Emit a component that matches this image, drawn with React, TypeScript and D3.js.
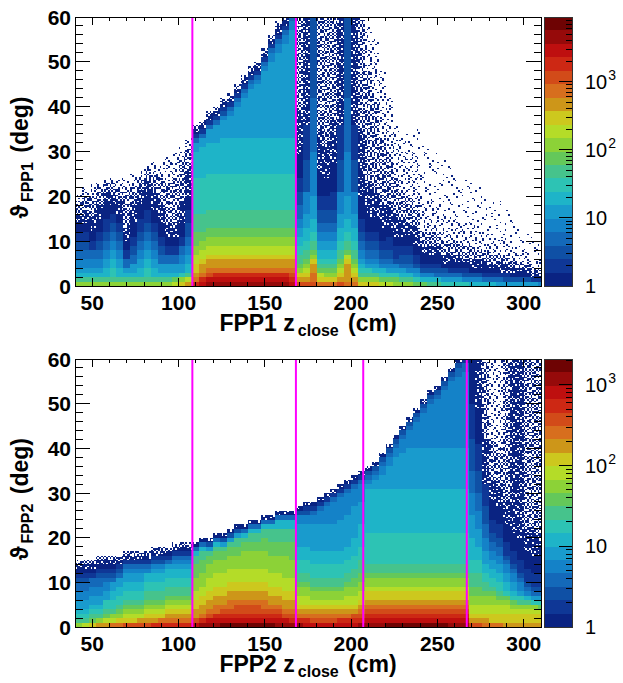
import React, { useEffect, useMemo } from 'react';
import * as d3 from 'd3';

// ---------- data ----------
// z bins: 4 cm wide from 40 cm; theta bins: 1 deg from 0 to 60 deg.
// Each column string is run-length coded from theta = 0 upward: symbol + count.
// Symbols: '0'..'9','A'..'J' = colour band 0..19 of the palette;
// 'c','b','a','e' = sparse single-count bins (occupancy about 80%, 50%, 20%, 8%).
const zRange = [40, 310];
const thetaRange = [0, 60];
const zBinWidth = 4;
const xTicks = [50, 100, 150, 200, 250, 300];
const yTicks = [0, 10, 20, 30, 40, 50, 60];
const colorTicks = [1, 10, 100, 1000];
const topCutLines = [108, 168];
const bottomCutLines = [108, 168, 207, 267];
const topMaxCount = 8900;
const bottomMaxCount = 2090;

const topColumns = [
  'A1 81 61 51 42 32 22 12 02 c2 b3 a2',
  'A1 81 61 51 42 32 22 12 02 c3 b3 a2',
  'A1 81 61 51 42 32 12 02 c4 b4 a3',
  'A1 81 61 51 42 32 22 12 03 c4 b3 a1',
  'A1 81 62 52 42 32 22 13 03 c3 b2 a1',
  'A1 81 72 62 52 42 32 22 12 02 c3 b2 a1',
  'A1 81 62 52 42 32 22 12 02 c3 b3 a2',
  'A1 81 61 51 32 12 02 c3 b8 a3',
  'A1 81 61 52 32 22 12 03 c4 b4 a3',
  'A1 81 62 52 42 32 22 13 03 c4 b2 a2',
  'A1 81 72 62 52 42 32 22 13 03 c4 b2 a1',
  'A1 81 62 52 42 32 22 12 03 c4 b4 a3',
  'A1 81 61 52 32 22 12 03 c4 b6 a4',
  'A1 81 61 52 32 12 02 c3 b9 a6',
  'B1 91 61 52 32 12 02 c3 b10 a6',
  'C1 A1 71 52 42 32 12 03 c5 b9 a3',
  'D1 B1 81 62 52 42 32 23 13 03 c6 b5 a2',
  'G1 E1 D1 C2 B2 A2 93 84 78 66 52 31 11 c1 b1',
  'H1 G1 E1 D2 C1 B2 A2 92 84 78 67 52 31 11 c1 b1',
  'I1 H1 F1 E1 D2 C1 B2 A2 92 84 78 67 53 31 11 c1 b1',
  'I1 H1 G1 E1 D2 C1 B2 A2 92 84 78 67 54 31 11 c1 b1',
  'I1 H1 G1 E1 D2 C1 B2 A2 92 84 78 68 54 41 21 11 c1 b1',
  'I1 H1 G1 E1 D2 C1 B2 A2 92 84 78 68 55 41 31 11 c1 b1',
  'I1 H1 G1 E1 D2 C1 B2 A2 92 84 78 68 57 41 31 11 c1 b1',
  'I1 H1 G1 E1 D2 C1 B2 A2 92 84 78 68 59 41 31 11 c1 b1',
  'I1 H1 G1 E1 D2 C1 B2 A2 92 84 78 68 511 41 31 11 c1 b1',
  'I1 H1 G1 E1 D2 C1 B2 A2 92 84 78 68 512 41 31 11 c1 b1',
  'I1 H1 G1 E1 D2 C1 B2 A2 92 84 78 68 515 41 31 11 c1 b1',
  'I1 H1 G1 E1 D2 C1 B2 A2 92 84 78 68 517 42 31 11 c1 b1',
  'I1 H1 G1 E1 D2 C1 B2 A2 92 84 78 68 519 42 31 11 c2 b1',
  'I1 H1 G1 E1 D2 C1 B2 A2 92 84 78 68 521 42 31 11 c2',
  'H1 G1 F1 E1 D2 C1 B2 A2 92 84 78 68 524 42 31',
  'F1 D1 C1 A1 91 82 72 62 52 42 33 23 13 05 c10 b21',
  'F1 D1 C1 B1 A1 91 82 72 63 53 45 27 18 c24',
  'F1 E2 D2 C1 A1 91 82 72 63 55 410 312 218',
  'E1 C1 B1 91 81 71 62 52 42 32 23 13 05 c10 b25',
  'E1 C1 A1 91 81 71 62 52 42 32 23 13 04 c8 b28',
  'E1 C1 A1 91 81 71 62 52 42 32 23 14 06 c10 b23',
  'F1 D1 C1 B1 A1 91 82 72 63 53 45 27 18 c24',
  'E1 D4 C1 B1 91 82 72 63 55 410 312 218',
  'E1 D1 C1 B1 A1 91 82 72 63 53 45 27 18 c24',
  'C1 A1 81 71 61 51 42 32 22 13 05 c15 b25',
  'C1 A1 81 71 51 41 32 22 12 03 c8 b25 a10',
  'C1 A1 81 61 51 41 32 22 12 03 c6 b20 a14',
  'B1 91 71 61 41 31 22 12 03 c5 b15 a15',
  'B1 91 71 51 41 31 22 13 02 c5 b12 a12',
  'A1 91 71 51 41 21 13 02 c5 b8 a12',
  'A1 81 61 51 31 22 12 02 c4 b6 a12',
  'A1 81 61 41 31 22 12 02 c3 b6 a10 e5',
  '91 71 51 41 21 12 02 c4 b5 a10 e8',
  '91 61 41 21 11 02 c2 b3 a8 e12',
  '81 61 41 21 11 02 c2 b3 a7 e12',
  '81 61 31 21 11 02 c2 b3 a6 e12',
  '71 51 31 21 01 c2 b3 a6 e12',
  '71 51 31 11 01 c2 b3 a5 e12',
  '71 51 31 11 01 c2 b3 a5 e10',
  '71 41 21 11 01 c1 b3 a5 e10',
  '61 41 21 01 c2 b3 a5 e10',
  '61 41 21 01 c2 b2 a4 e10',
  '61 31 11 01 c2 b2 a4 e8',
  '61 31 11 01 c1 b2 a4 e8',
  '51 31 11 c2 b2 a4 e8',
  '51 21 11 c2 b2 a3 e7',
  '51 21 01 c1 b2 a3 e6',
  '51 21 01 c1 b1 a3 e6',
  '51 21 01 c1 b1 a2 e5',
  '51 11 c1 b1 a2 e5',
  '41 11 c1 b1 a2 e4',
];

const bottomColumns = [
  'A1 81 71 61 52 42 32 21 11 01 c1 b1',
  'B1 81 71 61 52 42 32 21 11 01 c1 b1',
  'C1 91 81 71 61 52 42 32 11 01 c1 b1',
  'D1 A1 81 71 61 52 42 32 21 11 01 c1 b1',
  'D1 B1 91 81 72 52 42 31 21 11 01 c1 b1',
  'E1 B1 A1 81 72 62 52 31 21 11 01 c1 b1',
  'E1 C1 A1 91 81 72 62 52 31 21 11 c1 b1',
  'F1 C1 B1 A1 91 81 72 62 52 41 31 11 c1 b1',
  'F1 C1 B1 A1 91 81 72 62 52 41 31 11 c1 b1',
  'F1 D1 B1 A1 91 81 72 62 52 41 31 11 c1 b1',
  'F1 D1 C1 B1 A1 91 82 72 62 41 31 11 c1 b1',
  'G1 D1 C1 B1 A1 91 82 72 62 51 41 21 11 c1 b1',
  'G1 E1 C1 B1 A1 91 82 72 62 51 41 21 11 c1 b1',
  'G1 E1 D1 C1 B1 A1 91 82 72 62 51 31 11 c1 b1',
  'G1 E1 D1 C1 B1 A1 91 82 72 62 51 41 31 11 c1 b1',
  'G1 E1 D1 C1 B1 A1 91 82 72 62 51 41 31 11 c1 b1',
  'G1 E1 D1 C1 B1 A1 91 82 72 62 51 41 31 11 c1 b1',
  'H1 F1 D2 C2 B2 A3 93 82 61 31 c1',
  'I1 G1 E1 D2 C2 B2 A3 93 82 61 31 c1',
  'I1 H1 F1 E1 D2 C2 B3 A3 92 81 51 21 c1',
  'I1 H1 G1 E2 D2 C2 B3 A3 92 81 61 31 c1',
  'J1 H1 G1 F1 E1 D2 C2 B3 A3 92 81 51 21 c1',
  'J1 H1 G1 F1 E2 D2 C2 B3 A3 92 81 51 21 c1',
  'J1 H1 G1 F2 E1 D2 C2 B3 A3 92 82 51 21 c1',
  'J1 H1 G1 F2 E1 D2 C2 B3 A4 92 81 61 31 c1',
  'J1 H1 G1 F2 E1 D2 C2 B3 A4 92 82 61 31 c1',
  'J1 H1 G1 F2 E1 D2 C2 B3 A4 92 82 61 31 c1',
  'J1 H1 G1 F1 E2 D2 C2 B3 A4 93 82 61 31 c1',
  'J1 H1 G1 F1 E1 D2 C2 B3 A4 93 83 61 31 c1',
  'I1 H1 G1 F1 E1 D2 C2 B3 A4 93 83 62 31 c1',
  'I1 H1 F1 E1 D2 C2 B3 A5 93 83 62 31 c1',
  'I1 G1 F1 E1 D2 C2 B3 A4 94 83 62 31 c1',
  'I1 G1 E1 D1 C1 B2 A2 91 82 73 63 55 42 21 c1',
  'H1 G1 E1 D1 C1 B2 A2 91 82 73 63 55 42 21 11 c1',
  'H1 F1 E1 D1 C1 B1 A2 91 82 73 63 56 42 31 11 c1',
  'H1 F1 E1 D1 C1 B1 A2 91 82 73 63 56 43 31 11 c1',
  'H1 F1 E1 D1 C1 B1 A2 91 82 73 63 56 44 31 11 c1',
  'H1 F1 E1 D1 C1 B1 A2 91 82 73 63 56 45 31 11 c1',
  'H1 G1 E1 D1 C1 B1 A2 91 82 73 63 57 45 31 11 c1',
  'H1 G1 E1 D1 C1 B2 A2 91 82 73 63 57 45 31 11 c1',
  'H1 G1 F1 D1 C1 B2 A2 92 82 73 64 57 44 31 11 c1',
  'I1 G1 F1 E1 D1 C1 B2 A2 92 83 73 65 55 44 31 11 c1',
  'I1 H1 G1 F1 E1 D1 C2 B1 A2 91 82 77 610 51 41 31 21 c1',
  'I1 H1 G1 F1 E1 D1 C2 B1 A2 91 82 77 610 52 41 31 21 c1',
  'I1 H1 G1 F1 E1 D1 C2 B1 A2 91 82 77 610 53 42 31 21 c1',
  'J1 H1 G1 F1 E1 D1 C2 B1 A2 91 82 77 610 55 42 31 21 c1',
  'J1 H1 G1 F1 E1 D1 C2 B1 A2 91 82 77 610 57 42 31 21 c1',
  'J1 H1 G1 F1 E1 D1 C2 B1 A2 91 82 77 610 58 43 31 21 c1',
  'J1 H1 G1 F1 E1 D1 C2 B1 A2 91 82 77 610 59 44 31 21 c1',
  'J1 H1 G1 F1 E1 D1 C2 B1 A2 91 82 77 610 59 46 31 21 c1',
  'J1 H1 G1 F1 E1 D1 C2 B1 A2 91 82 77 610 59 48 31 21 c1',
  'J1 H1 G1 F1 E1 D1 C2 B1 A2 91 82 77 610 59 410 31 21 c1',
  'J1 H1 G1 F1 E1 D1 C2 B1 A2 91 82 77 610 59 411 31 21 c1',
  'J1 H1 G1 F1 E1 D1 C2 B1 A2 91 82 77 610 59 413 31 21 c1',
  'I1 H1 G1 F1 E1 D1 C2 B1 A2 91 82 77 610 59 415 31 21 c1',
  'I1 H1 G1 F1 E1 D1 C2 B1 A2 91 82 77 610 59 416 32 21 c1',
  'I1 H1 G1 F1 E1 D1 C2 B1 A2 91 82 77 610 59 417 32 11',
  'F1 D1 C1 B2 A2 92 83 73 65 55 45 35 27 18 010',
  'F1 D1 C1 B2 A2 92 83 73 63 54 44 34 25 16 08 c11',
  'E1 D1 C1 B2 A2 91 82 72 62 53 43 33 24 15 c10 b18',
  'E1 C2 B2 A2 91 81 72 62 52 42 32 22 13 04 c5 b9 a18',
  'E1 C2 B2 A1 91 81 72 62 52 42 32 22 13 04 c5 b8 a20',
  'D1 C2 B2 A1 91 71 62 52 42 31 21 13 04 c5 b32',
  'D1 C2 B1 A1 91 71 61 52 42 31 21 13 04 c39',
  'D1 C2 B1 A1 81 71 51 42 31 21 13 05 c40',
  'D1 C2 B1 A1 81 61 41 31 21 13 04 c5 b38',
  'D1 C2 B1 A1 71 51 31 21 13 04 c5 b39',
  'D1 C2 B1 91 71 51 31 21 13 04 c5 b39',
];

// ---------- styling ----------
const PALETTE = [
  'rgb(10,35,130)', 'rgb(15,55,150)', 'rgb(15,80,165)', 'rgb(20,105,185)',
  'rgb(20,130,200)', 'rgb(25,155,205)', 'rgb(30,180,200)', 'rgb(45,195,180)',
  'rgb(70,195,140)', 'rgb(100,200,90)', 'rgb(140,210,55)', 'rgb(180,220,40)',
  'rgb(205,200,30)', 'rgb(205,150,25)', 'rgb(215,110,30)', 'rgb(210,75,25)',
  'rgb(205,40,20)', 'rgb(190,15,15)', 'rgb(150,10,10)', 'rgb(110,3,3)',
];
const LEVEL_CHARS = '0123456789ABCDEFGHIJ';
const SPARSE: Record<string, number> = { e: 0.08, a: 0.2, b: 0.5, c: 0.8 };
const FONT = "'Liberation Sans', Arial, Helvetica, 'DejaVu Sans', sans-serif";

// fixed 8x8 scattered dither mask used to draw sparse bins as single dots
const MASK8 = [
  [34, 7, 52, 19, 41, 2, 60, 27],
  [13, 58, 29, 46, 10, 37, 21, 49],
  [44, 23, 0, 63, 31, 55, 14, 5],
  [61, 38, 16, 8, 50, 25, 42, 33],
  [3, 54, 47, 35, 18, 62, 9, 57],
  [26, 11, 30, 59, 4, 39, 51, 20],
  [48, 40, 22, 1, 45, 28, 15, 36],
  [17, 6, 56, 32, 53, 12, 24, 43],
];
function screenThreshold(i: number, j: number) {
  const ii = (i + 3 * Math.floor(j / 8)) % 8;
  const jj = (j + 5 * Math.floor(i / 8)) % 8;
  return (MASK8[jj][ii] + 0.5) / 64;
}

function decodeColumn(rle: string, nRows: number): string[] {
  const out: string[] = [];
  rle.trim().split(/\s+/).forEach((tok) => {
    const ch = tok[0];
    const n = parseInt(tok.slice(1), 10);
    for (let i = 0; i < n; i++) out.push(ch);
  });
  while (out.length < nRows) out.push('.');
  return out.slice(0, nRows);
}

type Cell = { z0: number; z1: number; t0: number; t1: number; lvl: number };

function buildCells(columns: string[]) {
  const nRows = thetaRange[1] - thetaRange[0];
  const blocks: Cell[] = [];
  const dots: Cell[] = [];
  columns.forEach((col, k) => {
    const cells = decodeColumn(col, nRows);
    const z0 = zRange[0] + k * zBinWidth;
    const z1 = z0 + zBinWidth;
    let r = 0;
    while (r < nRows) {
      const ch = cells[r];
      let r2 = r + 1;
      while (r2 < nRows && cells[r2] === ch) r2++;
      const lvl = LEVEL_CHARS.indexOf(ch);
      if (lvl >= 0) {
        blocks.push({ z0, z1, t0: r, t1: r2, lvl });
      } else if (SPARSE[ch] !== undefined) {
        const f = SPARSE[ch];
        for (let rr = r; rr < r2; rr++) {
          for (let j = 0; j < 3; j++) {
            for (let i = 0; i < 4; i++) {
              if (screenThreshold(k * 4 + i, rr * 3 + j) < f) {
                dots.push({ z0: z0 + i, z1: z0 + i + 1, t0: rr + j / 3, t1: rr + (j + 1) / 3, lvl: 0 });
              }
            }
          }
        }
      }
      r = r2;
    }
  });
  return { blocks, dots };
}

let measureCtx: CanvasRenderingContext2D | null = null;
function textWidth(txt: string, size: number, weight: string) {
  if (!measureCtx) measureCtx = document.createElement('canvas').getContext('2d');
  if (!measureCtx) return txt.length * size * 0.56;
  measureCtx.font = `${weight} ${size}px ${FONT}`;
  return measureCtx.measureText(txt).width;
}

// A title made of main text, a subscript and a trailing text, centred on (0,0)
function SubTitle({ main, sub, tail }: { main: string; sub: string; tail: string }) {
  const big = 23;
  const small = 16;
  const gap1 = 3;
  const w1 = textWidth(main, big, 'bold');
  const w2 = textWidth(sub, small, 'bold');
  const ws = textWidth(' ', big, 'bold') + 3;
  const w3 = textWidth(tail, big, 'bold');
  const x0 = -(w1 + gap1 + w2 + ws + w3) / 2;
  return (
    <g fontFamily={FONT} fontWeight="bold" fill="#000">
      <text x={x0} y={0} fontSize={big}>{main}</text>
      <text x={x0 + w1 + gap1} y={5} fontSize={small}>{sub}</text>
      <text x={x0 + w1 + gap1 + w2 + ws} y={0} fontSize={big}>{tail}</text>
    </g>
  );
}

type PanelProps = {
  id: string;
  top: number;
  bottom: number;
  columns: string[];
  lines: number[];
  maxCount: number;
  name: string;
};

const LEFT = 75;
const RIGHT = 541;
const CB_LEFT = 544.5;
const CB_RIGHT = 572.5;

function Panel({ id, top, bottom, columns, lines, maxCount, name }: PanelProps) {
  const x = d3.scaleLinear().domain(zRange).range([LEFT, RIGHT]);
  const y = d3.scaleLinear().domain(thetaRange).range([bottom, top]);
  const cy = d3.scaleLog().domain([1, maxCount]).range([bottom, top]);
  const { blocks, dots } = useMemo(() => buildCells(columns), [columns]);

  const xMinor = d3.range(zRange[0], zRange[1] + 0.1, 10).filter((v) => !xTicks.includes(v));
  const yMinor = d3.range(thetaRange[0], thetaRange[1] + 0.1, 2).filter((v) => !yTicks.includes(v));

  const nBands = PALETTE.length;
  const bandEdges = d3.range(nBands + 1).map((i) => Math.pow(maxCount, i / nBands));
  const cbMinor: number[] = [];
  for (let dec = 1; dec < maxCount; dec *= 10) {
    for (let m = 2; m <= 9; m++) if (m * dec < maxCount) cbMinor.push(m * dec);
  }
  const clipId = `clip-${id}`;
  const midY = (top + bottom) / 2;

  return (
    <g>
      <defs>
        <clipPath id={clipId}>
          <rect x={LEFT} y={top} width={RIGHT - LEFT} height={bottom - top} />
        </clipPath>
      </defs>
      <g clipPath={`url(#${clipId})`} shapeRendering="crispEdges">
        {blocks.map((c, i) => (
          <rect key={`b${i}`} x={x(c.z0)} y={y(c.t1)} width={x(c.z1) - x(c.z0)} height={y(c.t0) - y(c.t1)} fill={PALETTE[c.lvl]} />
        ))}
        {dots.map((c, i) => (
          <rect key={`d${i}`} x={x(c.z0)} y={y(c.t1)} width={x(c.z1) - x(c.z0)} height={y(c.t0) - y(c.t1)} fill={PALETTE[0]} />
        ))}
      </g>
      {lines.map((z) => (
        <line key={z} x1={x(z)} x2={x(z)} y1={top} y2={bottom} stroke="#ff00ff" strokeWidth={2} />
      ))}
      <g stroke="#000" strokeWidth={1} shapeRendering="crispEdges">
        {xTicks.map((v) => (
          <g key={`xt${v}`}>
            <line x1={x(v)} x2={x(v)} y1={bottom} y2={bottom - 8} />
            <line x1={x(v)} x2={x(v)} y1={top} y2={top + 8} />
          </g>
        ))}
        {xMinor.map((v) => (
          <g key={`xm${v}`}>
            <line x1={x(v)} x2={x(v)} y1={bottom} y2={bottom - 4} />
            <line x1={x(v)} x2={x(v)} y1={top} y2={top + 4} />
          </g>
        ))}
        {yTicks.map((v) => (
          <g key={`yt${v}`}>
            <line x1={LEFT} x2={LEFT + 15} y1={y(v)} y2={y(v)} />
            <line x1={RIGHT} x2={RIGHT - 15} y1={y(v)} y2={y(v)} />
          </g>
        ))}
        {yMinor.map((v) => (
          <g key={`ym${v}`}>
            <line x1={LEFT} x2={LEFT + 7.5} y1={y(v)} y2={y(v)} />
            <line x1={RIGHT} x2={RIGHT - 7.5} y1={y(v)} y2={y(v)} />
          </g>
        ))}
        <rect x={LEFT} y={top} width={RIGHT - LEFT} height={bottom - top} fill="none" />
      </g>
      <g fontFamily={FONT} fontWeight="bold" fontSize={21} fill="#000">
        {xTicks.map((v) => (
          <text key={`xl${v}`} x={x(v)} y={bottom + 24} textAnchor="middle">{v}</text>
        ))}
        {yTicks.map((v) => (
          <text key={`yl${v}`} x={LEFT - 4} y={y(v)} dy="0.36em" textAnchor="end">{v}</text>
        ))}
      </g>
      <g transform={`translate(${(LEFT + RIGHT) / 2},${bottom + 45})`}>
        <SubTitle main={`${name} z`} sub="close" tail="(cm)" />
      </g>
      <g transform={`translate(28,${midY + 6}) rotate(-90)`}>
        <SubTitle main="ϑ" sub={name} tail="(deg)" />
      </g>
      <g shapeRendering="crispEdges">
        {PALETTE.map((col, i) => (
          <rect key={`cb${i}`} x={CB_LEFT} y={cy(bandEdges[i + 1])} width={CB_RIGHT - CB_LEFT} height={cy(bandEdges[i]) - cy(bandEdges[i + 1])} fill={col} />
        ))}
        <g stroke="#000" strokeWidth={1}>
          {colorTicks.filter((v) => v > 1 && v < maxCount).map((v) => (
            <line key={`cbt${v}`} x1={CB_RIGHT} x2={CB_RIGHT - 14} y1={cy(v)} y2={cy(v)} />
          ))}
          {cbMinor.map((v) => (
            <line key={`cbm${v}`} x1={CB_RIGHT} x2={CB_RIGHT - 7} y1={cy(v)} y2={cy(v)} />
          ))}
          <rect x={CB_LEFT} y={top} width={CB_RIGHT - CB_LEFT} height={bottom - top} fill="none" stroke="#333" />
        </g>
      </g>
      <g fontFamily={FONT} fontSize={20} fill="#000">
        {colorTicks.filter((v) => v <= maxCount).map((v) => {
          const e = Math.round(Math.log10(v));
          const base = e === 0 ? '1' : '10';
          const wb = textWidth(base, 20, 'normal');
          return (
            <g key={`cbl${v}`}>
              <text x={585} y={cy(v)} dy="0.36em">{base}</text>
              {e >= 2 ? <text x={585 + wb + 1} y={cy(v) - 2} fontSize={14}>{e}</text> : null}
            </g>
          );
        })}
      </g>
    </g>
  );
}

export default function App() {
  useEffect(() => {
    document.body.style.margin = '0';
  }, []);
  return (
    <div style={{ position: 'absolute', left: 0, top: 0, width: 623, height: 683, background: '#fff' }}>
      <svg width={623} height={683} viewBox="0 0 623 683" style={{ display: 'block' }}>
        <rect x={0} y={0} width={623} height={683} fill="#fff" />
        <Panel id="top" top={17} bottom={286} columns={topColumns} lines={topCutLines} maxCount={topMaxCount} name="FPP1" />
        <Panel id="bottom" top={359} bottom={627} columns={bottomColumns} lines={bottomCutLines} maxCount={bottomMaxCount} name="FPP2" />
      </svg>
    </div>
  );
}
